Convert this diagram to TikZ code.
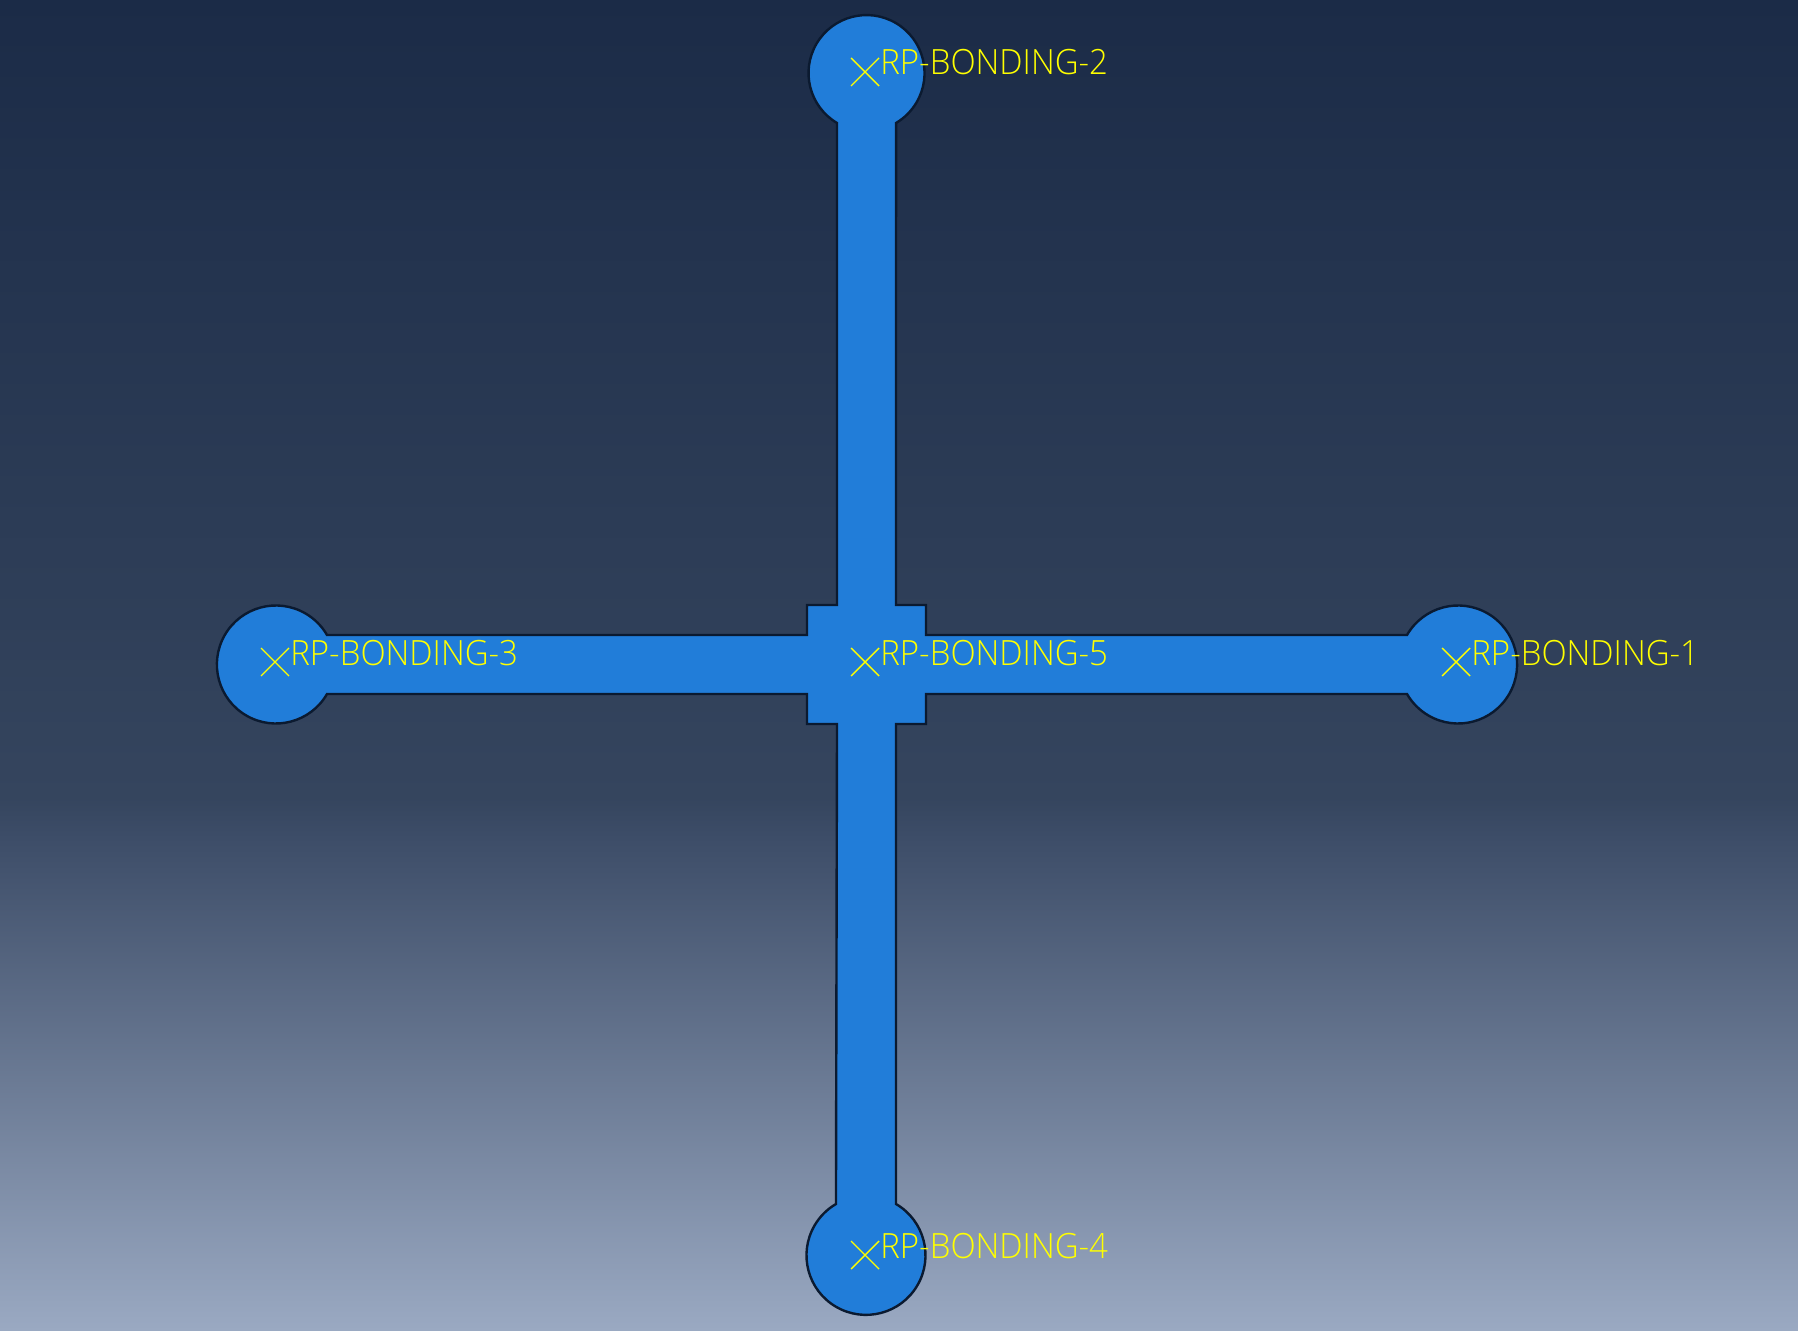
\documentclass[tikz,border=0pt]{standalone}
\usepackage{fontspec}
\setmainfont{Open Sans Light}
\usetikzlibrary{shapes.misc}
\definecolor{bgbottom}{HTML}{9AA9C2}
\definecolor{bglow}{HTML}{3D4D68}
\definecolor{bgmid}{HTML}{35455E}
\definecolor{bgtop}{HTML}{1B2B47}
\definecolor{partblue}{HTML}{217DD9}
\definecolor{partedge}{HTML}{0B1A30}
\definecolor{rpyellow}{HTML}{FFFF00}
\pgfdeclareverticalshading{viewportbg}{100bp}{
  color(0bp)=(bgbottom);
  color(25bp)=(bgbottom);
  color(43.5bp)=(bglow);
  color(45bp)=(bgmid);
  color(75bp)=(bgtop);
  color(100bp)=(bgtop)}
\tikzset{
  rpmark/.style={cross out, draw=rpyellow, line width=0.7pt, minimum size=14pt, inner sep=0pt, outer sep=0pt},
  rplabel/.style={anchor=base west, text=rpyellow, inner sep=0pt, font=\fontsize{17.4}{20}\selectfont, xscale=0.947}
}
\begin{document}
\begin{tikzpicture}[x=0.5pt, y=0.5pt]
\useasboundingbox (0,0) rectangle (1798,1330);
\shade[shading=viewportbg] (0,0) rectangle (1798,1330);
\draw[partedge, fill=partblue, line width=1.2pt, line join=miter]
  (837,725) -- (837,1207) arc[start angle=239.4, end angle=-59.4, radius=58]
  -- (896,725) -- (926,725) -- (926,695) -- (1407,695)
  arc[start angle=150, end angle=-150, radius=59]
  -- (926,636) -- (926,606) -- (896,606) -- (896,126)
  arc[start angle=59.7, end angle=-239.7, radius=59.5]
  -- (837,606) -- (807,606) -- (807,636) -- (327,636)
  arc[start angle=-30, end angle=-330, radius=59]
  -- (807,695) -- (807,725) -- cycle;
\node[rpmark] (rp1) at (1456,668) {};
\node[rpmark] (rp2) at (865,1258) {};
\node[rpmark] (rp3) at (275,668) {};
\node[rpmark] (rp4) at (865,75) {};
\node[rpmark] (rp5) at (865,668) {};
\node[rplabel] (lab1) at (1471,665) {RP-BONDING-1};
\node[rplabel] (lab2) at (880,1255) {RP-BONDING-2};
\node[rplabel] (lab3) at (290,665) {RP-BONDING-3};
\node[rplabel] (lab4) at (880,72) {RP-BONDING-4};
\node[rplabel] (lab5) at (880,665) {RP-BONDING-5};
\end{tikzpicture}
\end{document}
